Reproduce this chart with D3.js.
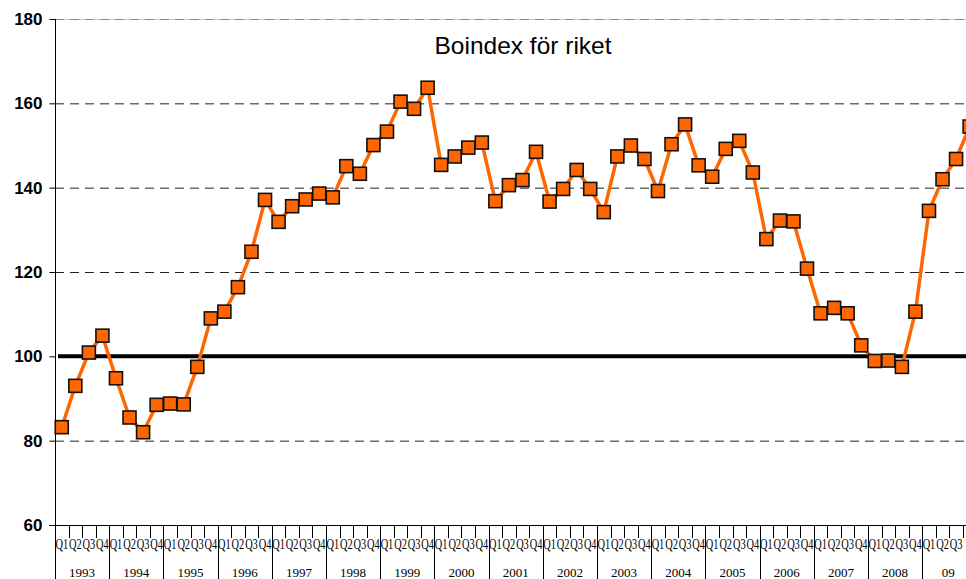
<!DOCTYPE html>
<html>
<head>
<meta charset="utf-8">
<script src="https://cdn.jsdelivr.net/npm/d3@7"></script>
<style>
  html, body { margin: 0; padding: 0; background: #fff; }
  svg { display: block; }
</style>
</head>
<body>
<svg id="chart" width="966" height="579"></svg>
<script>
const years = ["1993","1994","1995","1996","1997","1998","1999","2000","2001","2002","2003","2004","2005","2006","2007","2008","09"];
const quarterNames = ["Q1","Q2","Q3","Q4"];
const values = [
  83.2, 93.0, 100.9, 104.9,
  94.8, 85.5, 82.0, 88.5,
  88.8, 88.6, 97.5, 109.0,
  110.6, 116.4, 124.8, 137.1,
  131.9, 135.6, 137.2, 138.6,
  137.7, 145.1, 143.3, 150.1,
  153.3, 160.4, 158.7, 163.7,
  145.4, 147.4, 149.5, 150.7,
  136.8, 140.6, 141.8, 148.5,
  136.7, 139.7, 144.2, 139.7,
  134.2, 147.4, 150.0, 146.8,
  139.2, 150.3, 155.0, 145.3,
  142.6, 149.2, 151.1, 143.6,
  127.8, 132.2, 132.0, 120.8,
  110.2, 111.5, 110.2, 102.6,
  98.9, 99.0, 97.5, 110.6,
  134.5, 142.0, 146.8, 154.5
];
const yTicks = [60, 80, 100, 120, 140, 160, 180];
const gridValues = [80, 120, 140, 160];
const refValue = 100;
const title = "Boindex för riket";

(function () {
const svg = d3.select("#chart");
const mLeft = 55, mRight = 976.4, mTop = 19, mBottom = 525;

const quarters = [];
years.forEach(yr => quarterNames.forEach(q => quarters.push(yr + "-" + q)));

const x = d3.scaleBand().domain(quarters).range([mLeft, mRight]).paddingInner(0).paddingOuter(0);
const xYear = d3.scaleBand().domain(years).range([mLeft, mRight]).paddingInner(0).paddingOuter(0);
const y = d3.scaleLinear().domain([60, 180]).range([mBottom, mTop]);

// top border line at 180
svg.append("line").attr("x1", mLeft).attr("x2", 966).attr("y1", y(180) + 0.5).attr("y2", y(180) + 0.5)
  .attr("stroke", "#c8c8c8").attr("stroke-width", 1);
svg.append("line").attr("x1", mLeft).attr("x2", 966).attr("y1", y(180) + 0.5).attr("y2", y(180) + 0.5)
  .attr("stroke", "#8a8a8a").attr("stroke-width", 1).attr("stroke-dasharray", "9,6");

// dashed grid
svg.append("g").selectAll("line").data(gridValues).join("line")
  .attr("x1", mLeft).attr("x2", 966)
  .attr("y1", d => y(d) + 0.5).attr("y2", d => y(d) + 0.5)
  .attr("stroke", "#222").attr("stroke-width", 1).attr("stroke-dasharray", "9,6");

// y axis
const yAxis = d3.axisLeft(y).tickValues(yTicks).tickSize(6).tickPadding(8).tickFormat(d3.format("d"));
const gy = svg.append("g").attr("transform", `translate(${mLeft + 0.5},0)`).call(yAxis);
gy.select(".domain").attr("stroke", "#000").attr("d", `M0,${y(180)}V${mBottom}`);
gy.selectAll(".tick line").attr("stroke", "#000");
gy.selectAll(".tick text")
  .attr("font-family", "'Liberation Sans', Arial, sans-serif")
  .attr("font-weight", "bold").attr("font-size", 17).attr("fill", "#000")
  .attr("x", -13);

// x axis base line
svg.append("line").attr("x1", mLeft - 6).attr("x2", 966).attr("y1", mBottom + 0.5).attr("y2", mBottom + 0.5)
  .attr("stroke", "#000").attr("stroke-width", 1);

// quarter tick marks (short)
svg.append("g").selectAll("line").data(quarters).join("line")
  .attr("x1", d => Math.round(x(d)) + 0.5).attr("x2", d => Math.round(x(d)) + 0.5)
  .attr("y1", mBottom).attr("y2", mBottom + 13)
  .attr("stroke", "#000").attr("stroke-width", 1);

// year boundary lines (long)
svg.append("g").selectAll("line").data(years).join("line")
  .attr("x1", d => Math.round(xYear(d)) + 0.5).attr("x2", d => Math.round(xYear(d)) + 0.5)
  .attr("y1", mBottom).attr("y2", 579)
  .attr("stroke", "#000").attr("stroke-width", 1);

// quarter labels (horizontally condensed to fit each quarter slot)
svg.append("g").selectAll("text").data(quarters.filter(q => x(q) + x.bandwidth() <= 967)).join("text")
  .attr("transform", d => `translate(${x(d) + x.bandwidth() / 2},549) scale(0.74,1)`)
  .attr("text-anchor", "middle")
  .attr("font-family", "'Liberation Serif', 'Times New Roman', serif")
  .attr("font-size", 14).attr("fill", "#000")
  .text(d => d.split("-")[1]);

// year labels
svg.append("g").selectAll("text").data(years).join("text")
  .attr("x", d => d === "09" ? xYear(d) + 26 : xYear(d) + xYear.bandwidth() / 2)
  .attr("y", 577)
  .attr("text-anchor", "middle")
  .attr("font-family", "'Liberation Serif', 'Times New Roman', serif")
  .attr("font-size", 13).attr("fill", "#000")
  .text(d => d);

// reference line at 100
svg.append("line").attr("x1", mLeft + 3).attr("x2", 966).attr("y1", y(refValue)).attr("y2", y(refValue))
  .attr("stroke", "#000").attr("stroke-width", 4);

// series line
const cx = (d, i) => x(quarters[i]) + x.bandwidth() / 2;
const line = d3.line().x((d, i) => cx(d, i)).y(d => y(d));
svg.append("path").datum(values)
  .attr("d", line).attr("fill", "none")
  .attr("stroke", "#FF6600").attr("stroke-width", 3.5).attr("stroke-linejoin", "round");

// markers
const s = 13;
svg.append("g").selectAll("rect").data(values).join("rect")
  .attr("x", (d, i) => cx(d, i) - s / 2)
  .attr("y", d => y(d) - s / 2)
  .attr("width", s).attr("height", s)
  .attr("fill", "#FF6600").attr("stroke", "#111").attr("stroke-width", 1.6);

// title
svg.append("text").attr("x", 523).attr("y", 54)
  .attr("text-anchor", "middle")
  .attr("font-family", "'Liberation Sans', Arial, sans-serif")
  .attr("font-size", 24.5).attr("fill", "#000")
  .text(title);
})();
</script>
</body>
</html>
